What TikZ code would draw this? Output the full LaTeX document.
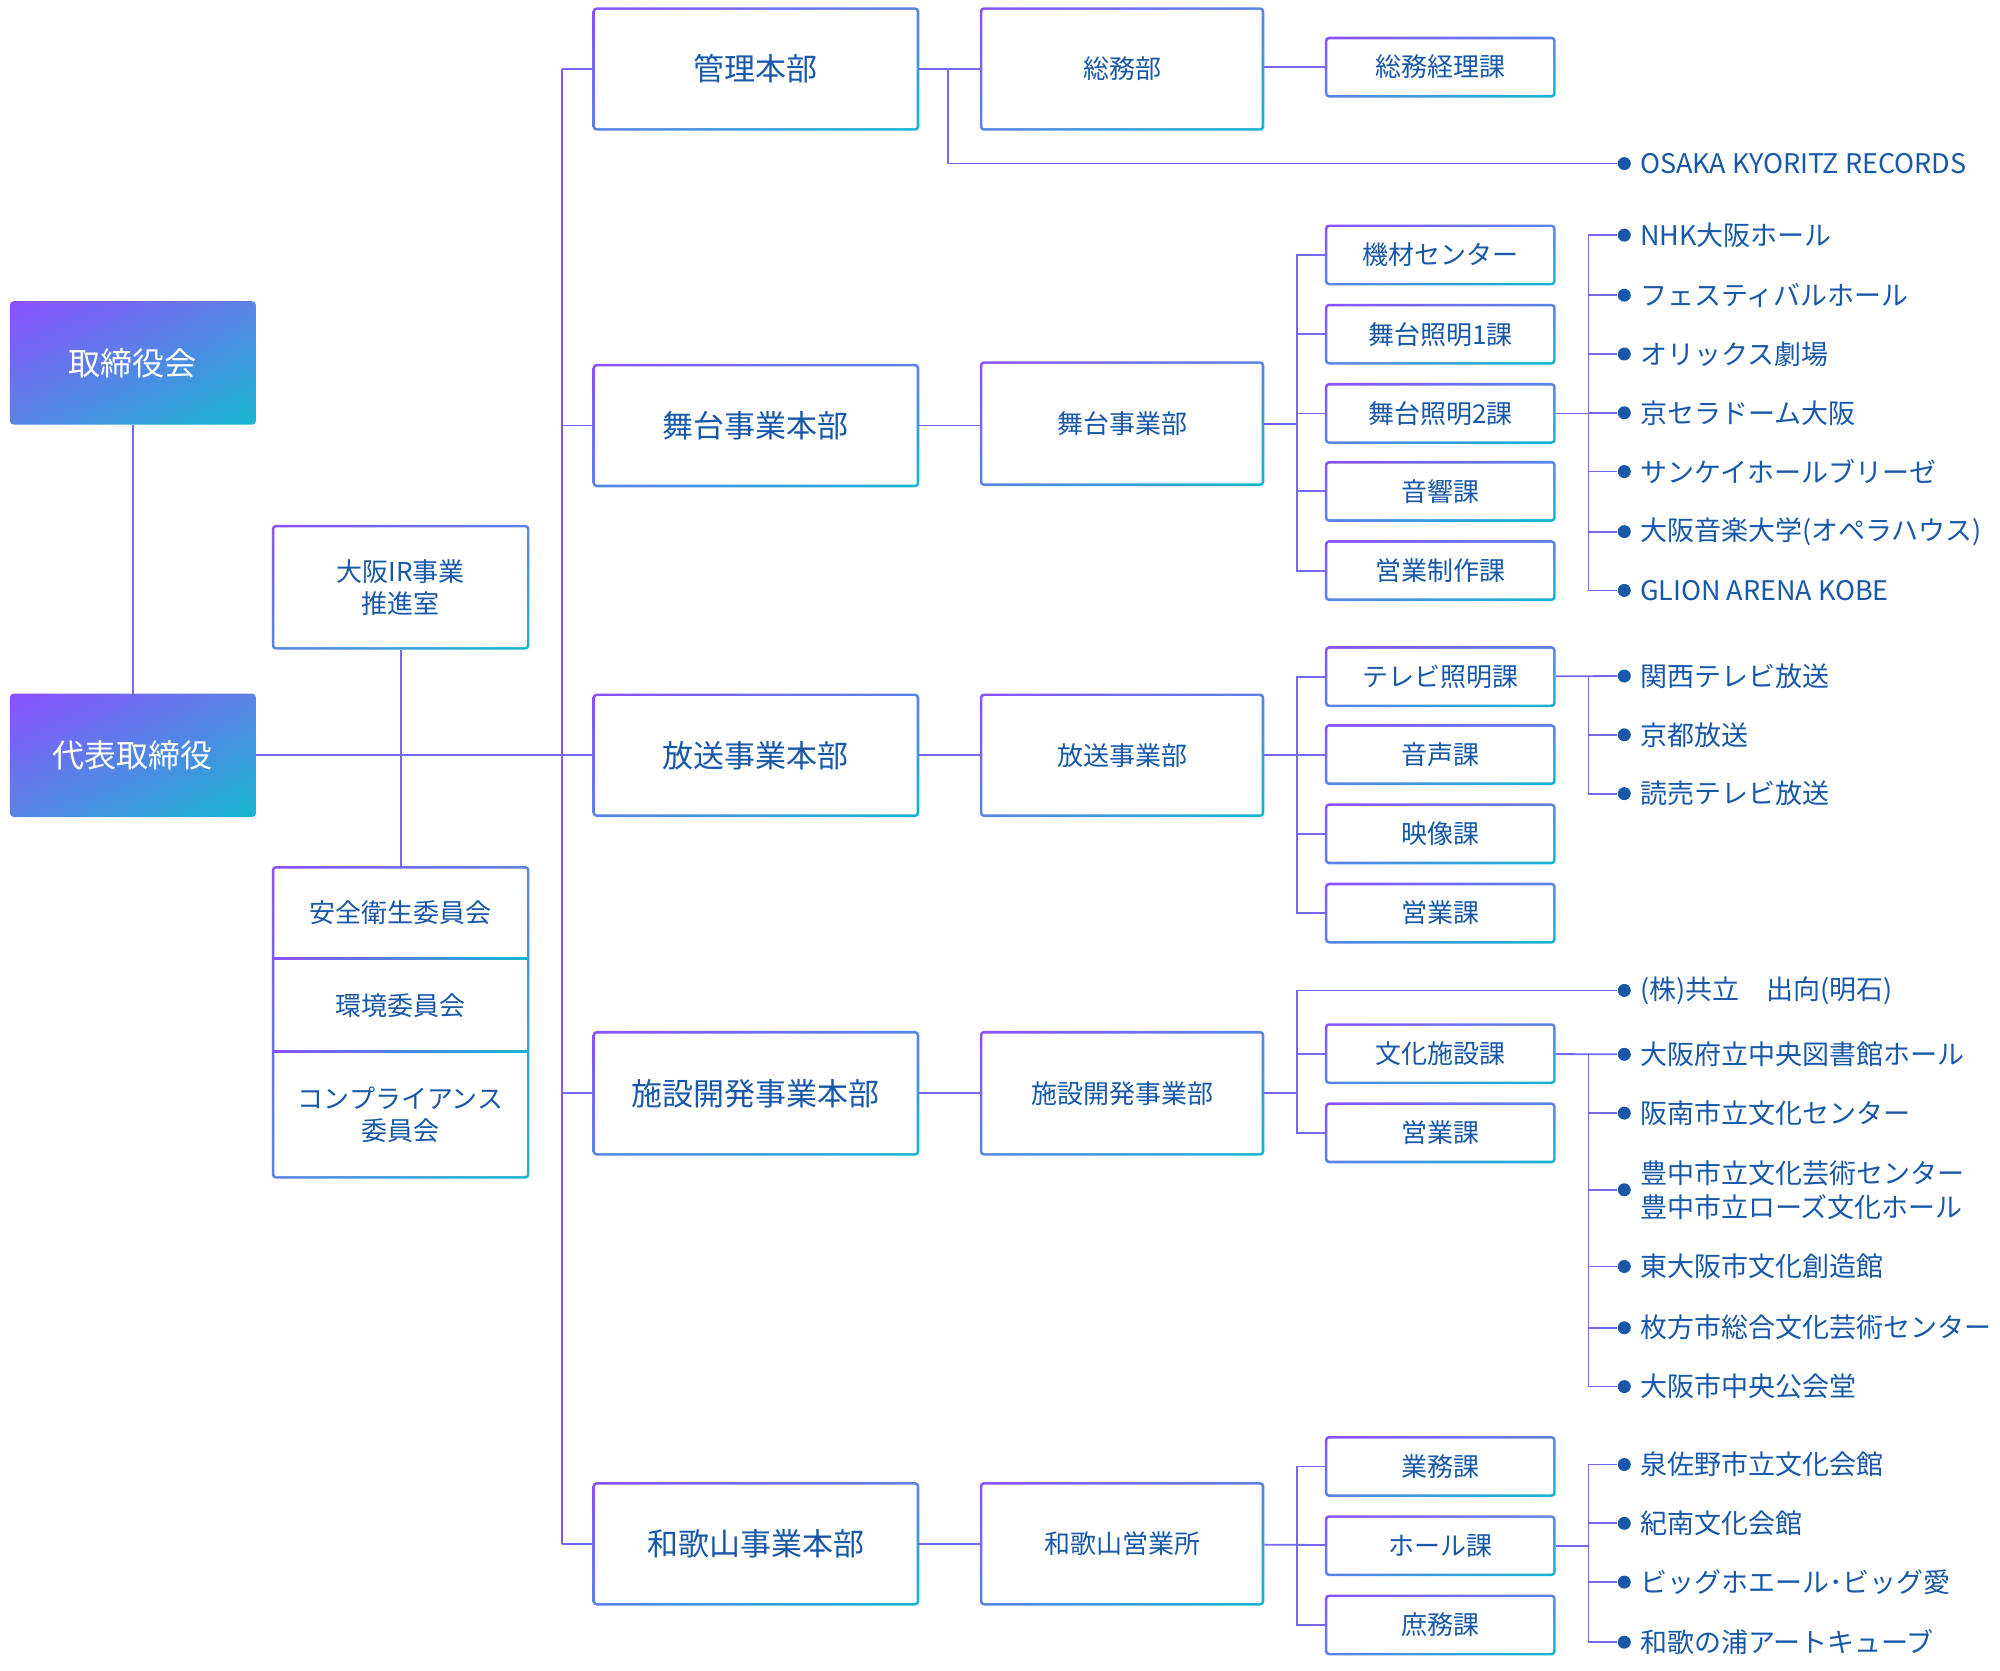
\documentclass[tikz,border=0pt]{standalone}
\usepackage{fontspec}
\usetikzlibrary{shadings}
\setmainfont{Noto Sans CJK JP}
\definecolor{gp}{HTML}{8B50FF}
\definecolor{gc}{HTML}{14B6CE}
\definecolor{gm}{HTML}{5A84E6}
\definecolor{tx}{HTML}{1858A8}
\definecolor{ln}{HTML}{7468F0}
\tikzset{
  frame/.style={inner sep=0pt,draw=none},
  txt/.style={text=tx,font=\fontsize{13}{16}\selectfont,align=center,inner sep=0pt},
  big/.style={text=tx,font=\fontsize{15.5}{18}\selectfont,align=center,inner sep=0pt},
  wt/.style={text=white,font=\fontsize{16}{19}\selectfont,align=center,inner sep=0pt},
  lbl/.style={text=tx,font=\fontsize{13.5}{17}\selectfont,anchor=west,inner sep=0pt,align=left},
  dot/.style={circle,fill=tx,inner sep=0pt,minimum size=6.5pt},
  con/.style={ln,line width=0.9pt},
}
% name, cx, cy, w, h, style, text
\newcommand\gbx[7]{%
  \node[frame,minimum width={#4*0.639pt},minimum height={#5*0.639pt}] (#1) at (#2,#3) {};
  \shade[upper left=gp,lower right=gc,upper right=gm,lower left=gm,rounded corners=2pt] (#1.north west) rectangle (#1.south east);
  \fill[white,rounded corners=1pt] ([shift={(1.3pt,-1.3pt)}]#1.north west) rectangle ([shift={(-1.3pt,1.3pt)}]#1.south east);
  \node[#6] (#1-t) at (#1) {#7};}
\newcommand\fbx[6]{%
  \node[frame,minimum width={#4*0.639pt},minimum height={#5*0.639pt}] (#1) at (#2,#3) {};
  \shade[upper left=gp,lower right=gc,upper right=gm,lower left=gm,rounded corners=2pt] (#1.north west) rectangle (#1.south east);
  \node[wt] (#1-t) at (#1) {#6};}
\newcommand\bul[3]{%
  \node[dot] (#1) at (1271,#2) {};
  \node[lbl] (#1-t) at (1283,#2) {#3};}
\begin{document}
\begin{tikzpicture}[x=0.639pt,y=-0.639pt]
\useasboundingbox (0,0) rectangle (1565,1307);
\coordinate (tr-top) at (440,54);
\coordinate (tr-bot) at (440,1208);
\draw[con,gp] (tr-top) -- (tr-bot);
\fbx{bod}{104}{284}{192}{96}{取締役会}
\fbx{ceo}{104}{591}{192}{96}{代表取締役}
\draw[con] (bod) -- (ceo);
\gbx{ir}{313.5}{459.5}{201}{97}{txt}{大阪IR事業\\推進室}
\node[frame,minimum width={201*0.639pt},minimum height={244*0.639pt}] (cm) at (313.5,800) {};
\shade[upper left=gp,lower right=gc,upper right=gm,lower left=gm,rounded corners=2pt] (cm.north west) rectangle (cm.south east);
\fill[white,rounded corners=1pt] ([shift={(1.3pt,-1.3pt)}]cm.north west) rectangle ([shift={(-1.3pt,1.3pt)}]cm.south east);
\shade[left color=gp,right color=gc] (214,749.3) rectangle (413,750.7);
\shade[left color=gp,right color=gc] (214,822.3) rectangle (413,823.7);
\node[txt] (c1) at (313.5,714) {安全衛生委員会};
\node[txt] (c2) at (313.5,787) {環境委員会};
\node[txt] (c3) at (313.5,872) {コンプライアンス\\委員会};
\draw[con] (ir) -- (cm);
\gbx{h1}{591.5}{54}{255}{96}{big}{管理本部}
\gbx{h2}{591.5}{333}{255}{96}{big}{舞台事業本部}
\gbx{h3}{591.5}{591}{255}{96}{big}{放送事業本部}
\gbx{h4}{591.5}{855.5}{255}{97}{big}{施設開発事業本部}
\gbx{h5}{591.5}{1208}{255}{96}{big}{和歌山事業本部}
\draw[con] (ceo) -- (h3);
\foreach \h/\y in {h1/54,h2/333,h4/855.5,h5/1208} \draw[con] (440,\y) -- (\h);
\gbx{d1}{878}{54}{222}{96}{txt}{総務部}
\gbx{d2}{878}{331.5}{222}{97}{txt}{舞台事業部}
\gbx{d3}{878}{591}{222}{96}{txt}{放送事業部}
\gbx{d4}{878}{855.5}{222}{97}{txt}{施設開発事業部}
\gbx{d5}{878}{1208}{222}{96}{txt}{和歌山営業所}
\draw[con] (h1) -- (d1);
\draw[con] (h2.east) -- (d2.west |- h2.east);
\draw[con] (h3) -- (d3);
\draw[con] (h4) -- (d4);
\draw[con] (h5) -- (d5);
\gbx{s0}{1127}{52.5}{180}{47}{txt}{総務経理課}
\draw[con] (d1.east |- s0) -- (s0);
\gbx{s11}{1127}{199.5}{180}{47}{txt}{機材センター}
\gbx{s12}{1127}{261.5}{180}{47}{txt}{舞台照明1課}
\gbx{s13}{1127}{323.5}{180}{47}{txt}{舞台照明2課}
\gbx{s14}{1127}{384.5}{180}{47}{txt}{音響課}
\gbx{s15}{1127}{446.5}{180}{47}{txt}{営業制作課}
\gbx{s21}{1127}{529.5}{180}{47}{txt}{テレビ照明課}
\gbx{s22}{1127}{590.5}{180}{47}{txt}{音声課}
\gbx{s23}{1127}{652.5}{180}{47}{txt}{映像課}
\gbx{s24}{1127}{714.5}{180}{47}{txt}{営業課}
\gbx{s31}{1127}{824.5}{180}{47}{txt}{文化施設課}
\gbx{s32}{1127}{886.5}{180}{47}{txt}{営業課}
\gbx{s41}{1127}{1147.5}{180}{47}{txt}{業務課}
\gbx{s42}{1127}{1209.5}{180}{47}{txt}{ホール課}
\gbx{s43}{1127}{1271.5}{180}{47}{txt}{庶務課}
\draw[con] (d2.east) -- (1015,331.5);
\draw[con] (s11.west) -| (1015,446.5) -- (s15.west);
\foreach \s in {s12,s13,s14} \draw[con] (1015,0 |- \s.west) -- (\s.west);
\draw[con] (d3) -- (1015,591);
\draw[con] (s21.west) -| (1015,714.5) -- (s24.west);
\foreach \s in {s22,s23} \draw[con] (1015,0 |- \s.west) -- (\s.west);
\draw[con] (d4) -- (1015,855.5);
\draw[con] (s41.west) -| (1015,1271.5) -- (s43.west);
\draw[con] (d5) -- (s42);
\bul{b0}{128}{OSAKA KYORITZ RECORDS}
\draw[con] (742,54) |- (b0);
\bul{b11}{184}{NHK大阪ホール}
\bul{b12}{231}{フェスティバルホール}
\bul{b13}{277}{オリックス劇場}
\bul{b14}{323}{京セラドーム大阪}
\bul{b15}{369}{サンケイホールブリーゼ}
\bul{b16}{416}{大阪音楽大学(オペラハウス)}
\bul{b17}{462}{GLION ARENA KOBE}
\draw[con] (b11) -| (1243,462) -- (b17);
\foreach \b in {b12,b13,b14,b15,b16} \draw[con] (1243,0 |- \b) -- (\b);
\draw[con] (s13) -- (1243,323.5);
\bul{b21}{529}{関西テレビ放送}
\bul{b22}{575}{京都放送}
\bul{b23}{621}{読売テレビ放送}
\draw[con] (s21) -- (b21);
\draw[con] (1243,529) |- (b23);
\draw[con] (1243,575) -- (b22);
\bul{b30}{775}{(株)共立　出向(明石)}
\draw[con] (1015,855.5) -- (1015,775) -- (b30);
\draw[con] (s31.west) -| (1015,886.5) -- (s32.west);
\bul{b31}{825}{大阪府立中央図書館ホール}
\bul{b32}{871}{阪南市立文化センター}
\bul{b33}{931}{豊中市立文化芸術センター\\豊中市立ローズ文化ホール}
\bul{b34}{991}{東大阪市文化創造館}
\bul{b35}{1039}{枚方市総合文化芸術センター}
\bul{b36}{1085}{大阪市中央公会堂}
\draw[con] (s31) -- (b31);
\draw[con] (1243,825) |- (b36);
\foreach \b in {b32,b33,b34,b35} \draw[con] (1243,0 |- \b) -- (\b);
\bul{b41}{1146}{泉佐野市立文化会館}
\bul{b42}{1192}{紀南文化会館}
\bul{b43}{1238}{ビッグホエール･ビッグ愛}
\bul{b44}{1285}{和歌の浦アートキューブ}
\draw[con] (b41) -| (1243,1285) -- (b44);
\foreach \b in {b42,b43} \draw[con] (1243,0 |- \b) -- (\b);
\draw[con] (s42) -- (1243,1209.5);
\end{tikzpicture}
\end{document}
